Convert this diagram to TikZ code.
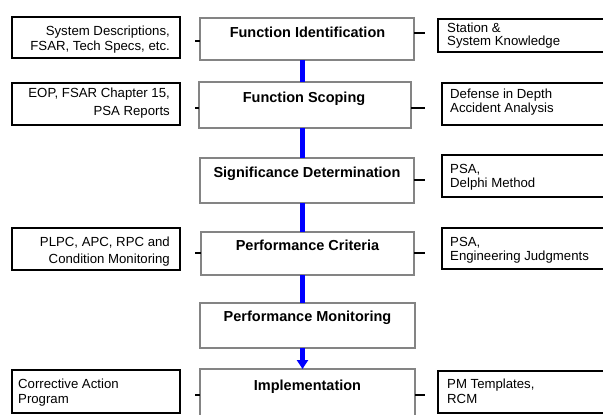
\documentclass[tikz,border=0pt]{standalone}
\usepackage{fontspec}
\setmainfont{Liberation Sans}
\usetikzlibrary{arrows.meta}
\definecolor{boxgray}{RGB}{132,132,132}
\definecolor{linkblue}{RGB}{0,0,255}
\begin{document}
\begin{tikzpicture}[x=1bp,y=-1bp,
 cbox/.style={draw=boxgray, line width=1.8bp, fill=white, inner sep=0pt, outer sep=0pt},
 sbox/.style={draw=black, line width=1.6bp, fill=white, inner sep=0pt, outer sep=0pt},
 ctext/.style={font=\fontsize{14.5bp}{17bp}\selectfont\bfseries, inner sep=0pt, anchor=base},
 ltext/.style={font=\fontsize{13.2bp}{#1}\selectfont, inner sep=0pt, align=right, anchor=base east},
 lltext/.style={font=\fontsize{13.2bp}{#1}\selectfont, inner sep=0pt, align=left, anchor=base west},
 rtext/.style={font=\fontsize{13.2bp}{#1}\selectfont, inner sep=0pt, align=left, anchor=base west},
 stub/.style={draw=black, line width=1.3bp},
 link/.style={draw=linkblue, line width=5bp},
]
\useasboundingbox (0,0) rectangle (603,414);
\clip (0,0) rectangle (603,414);
\fill[white] (0,0) rectangle (603,414);

% centre boxes
\node[cbox, minimum width=214bp, minimum height=42bp] (fi) at (307,39) {};
\node[cbox, minimum width=212bp, minimum height=46bp] (fs) at (305,105) {};
\node[cbox, minimum width=214bp, minimum height=45bp] (sd) at (307,180.5) {};
\node[cbox, minimum width=213bp, minimum height=43bp] (pc) at (307.5,253.5) {};
\node[cbox, minimum width=215bp, minimum height=45bp] (pm) at (307.5,325.5) {};
\node[cbox, minimum width=215bp, minimum height=53bp] (im) at (307.5,395.5) {};

\node[ctext] (fit) at (307.5,37) {Function Identification};
\node[ctext] (fst) at (304,102) {Function Scoping};
\node[ctext] (sdt) at (307,177) {Significance Determination};
\node[ctext] (pct) at (307.5,250) {Performance Criteria};
\node[ctext] (pmt) at (307.5,321) {Performance Monitoring};
\node[ctext] (imt) at (307.5,390) {Implementation};

% left boxes
\node[sbox, minimum width=168bp, minimum height=41bp] (l1) at (96,37.5) {};
\node[sbox, minimum width=168bp, minimum height=42bp] (l2) at (96,104) {};
\node[sbox, minimum width=168bp, minimum height=42bp] (l4) at (96,249) {};
\node[sbox, minimum width=168bp, minimum height=43bp] (l6) at (96,391.5) {};

% multi-line nodes: base anchor = last line's baseline
\node[ltext=15bp] (l1t) at (170,50) {System Descriptions,\\FSAR, Tech Specs, etc.};
\node[ltext=17.5bp] (l2t) at (170,115) {EOP, FSAR Chapter 15,\\PSA Reports};
\node[ltext=17bp] (l4t) at (170,263) {PLPC, APC, RPC and\\Condition Monitoring};
\node[lltext=15bp] (l6t) at (18,403) {Corrective Action\\Program};

% right boxes
\node[sbox, minimum width=172bp, minimum height=33bp] (r1) at (524,35.5) {};
\node[sbox, minimum width=168bp, minimum height=42bp] (r2) at (526,104) {};
\node[sbox, minimum width=168bp, minimum height=42bp] (r3) at (526,176) {};
\node[sbox, minimum width=168bp, minimum height=41bp] (r4) at (526,248.5) {};
\node[sbox, minimum width=172bp, minimum height=42bp] (r6) at (524,392) {};

\node[rtext=13bp] (r1t) at (447,45) {Station \&\\System Knowledge};
\node[rtext=14bp] (r2t) at (450,112) {Defense in Depth\\Accident Analysis};
\node[rtext=14bp] (r3t) at (450,187) {PSA,\\Delphi Method};
\node[rtext=14bp] (r4t) at (450,260) {PSA,\\Engineering Judgments};
\node[rtext=15bp] (r6t) at (447,403) {PM Templates,\\RCM};

% stubs
\coordinate (fiL) at (195,41);
\coordinate (fsL) at (195,108);
\coordinate (pcL) at (195,253);
\coordinate (imL) at (195,395);
\coordinate (fiR) at (425,33);
\coordinate (fsR) at (425,108);
\coordinate (sdR) at (425,180);
\coordinate (pcR) at (425,253);
\coordinate (imR) at (425,395);
\draw[stub] (fiL) -- (fiL -| fi.west);
\draw[stub] (fsL) -- (fsL -| fs.west);
\draw[stub] (pcL) -- (pcL -| pc.west);
\draw[stub] (imL) -- (imL -| im.west);
\draw[stub] (fiR -| fi.east) -- (fiR);
\draw[stub] (fsR -| fs.east) -- (fsR);
\draw[stub] (sdR -| sd.east) -- (sdR);
\draw[stub] (pcR -| pc.east) -- (pcR);
\draw[stub] (imR -| im.east) -- (imR);

% blue links
\coordinate (spine) at (302.5,0);
\draw[link] (fi.south -| spine) -- (fs.north -| spine);
\draw[link] (fs.south -| spine) -- (sd.north -| spine);
\draw[link] (sd.south -| spine) -- (pc.north -| spine);
\draw[link] (pc.south -| spine) -- (pm.north -| spine);
\draw[link, -{Triangle[width=11bp,length=9bp]}] (pm.south -| spine) -- (im.north -| spine);
\end{tikzpicture}
\end{document}
